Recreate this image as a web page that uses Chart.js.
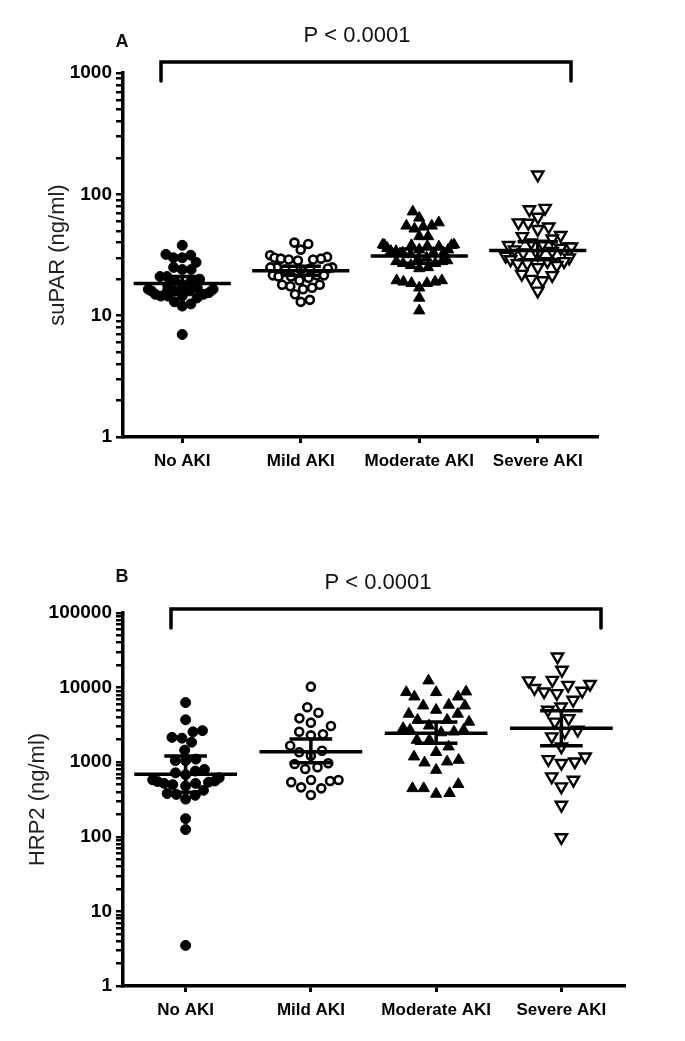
<!DOCTYPE html>
<html>
<head>
<meta charset="utf-8">
<script src="https://cdn.jsdelivr.net/npm/chart.js@4.4.0/dist/chart.umd.min.js"></script>
<style>
body{margin:0;background:#fff;width:685px;height:1041px;overflow:hidden;position:relative}
canvas{position:absolute;left:0}
#cA{top:0}
#cB{top:520px}
</style>
</head>
<body>
<canvas id="cA" width="685" height="520"></canvas>
<canvas id="cB" width="685" height="521"></canvas>
<script>
// groups on the x axis
var cats = ["No AKI", "Mild AKI", "Moderate AKI", "Severe AKI"];

// panel A, suPAR (ng/ml)
var supNo = [38, 32, 31.5, 30, 30, 27.5, 25, 24, 24, 21, 21, 20, 19.5, 19, 18, 17.5, 17, 16.5, 16.5, 16, 16, 16, 15.5, 15, 15, 14.5, 14.5, 14.5, 14, 13, 12.5, 12, 7];
var supMild = [40, 39, 35, 31.5, 30.5, 30, 29.5, 29.5, 29, 29, 28.5, 25, 25, 25, 24.5, 24.5, 24, 24, 21.5, 21.5, 21.5, 21, 21, 20.5, 19.5, 18, 18, 17.5, 17, 16.5, 15, 13.5, 13];
var supMod = [72, 64, 58.5, 55, 55, 54, 52, 45, 45, 38.5, 38.5, 38, 38, 38, 37.5, 37, 36, 35, 35, 34, 34, 33, 33, 33, 32, 30, 29, 28.5, 28, 28, 27, 27, 26, 25, 24.5, 19.5, 19.5, 19, 19, 18.5, 18.5, 17, 14, 11];
var supSev = [145, 77, 75, 65, 58.5, 58, 54, 51.5, 46, 45, 43, 40, 39, 38, 37, 37, 36, 35, 34, 33, 32, 31, 30, 29, 28, 28, 27, 27, 26, 25, 22, 21.5, 20, 19.5, 16];
var supMid = [18.4, 23.4, 31, 34.4];
var supHi = [21, 25.5, 35.5, 40.7];
var supLo = [16.2, 21.5, 27, 28.9];
var supTicks = [1, 10, 100, 1000];

// panel B, HRP2 (ng/ml)
var hrpNo = [6300, 3700, 2650, 2550, 2150, 2100, 1850, 1450, 1100, 1050, 1050, 800, 760, 720, 680, 620, 580, 560, 550, 540, 520, 520, 500, 480, 420, 380, 370, 360, 320, 175, 125, 3.5];
var hrpMild = [10300, 5450, 4600, 3870, 3390, 3060, 2560, 2370, 2290, 1665, 1425, 1360, 1220, 967, 946, 855, 811, 577, 577, 560, 540, 460, 446, 364];
var hrpMod = [12400, 8810, 7550, 7550, 8650, 8650, 5720, 5010, 5720, 5850, 4430, 4430, 3680, 3680, 3470, 3080, 2700, 2500, 2850, 2560, 2700, 1985, 1985, 1615, 1360, 1070, 985, 1015, 1185, 785, 506, 446, 375, 383, 446];
var hrpSev = [25900, 17200, 10800, 12600, 12400, 11100, 9800, 8810, 8380, 9000, 6820, 5010, 5550, 3870, 3470, 2700, 2200, 2560, 1615, 1185, 1015, 970, 1090, 640, 577, 470, 267, 98];
var hrpMid = [689, 1383, 2440, 2845];
var hrpHi = [1210, 2050, 3460, 4900];
var hrpLo = [395, 984, 1790, 1665];
var hrpTicks = [1, 10, 100, 1000, 10000, 100000];

var pText = "P < 0.0001";
var FONT = "'Liberation Sans', Arial, sans-serif";

// beeswarm offsets (in category units) so dots don't sit on top of each other,
// softly capped so dense rows don't run into the next group
function swarm(vals, ppd, ppu, d, cap) {
  var pts = vals.map(function (v, k) { return {k: k, y: Math.log10(v) * ppd, x: 0}; });
  var order = pts.slice().sort(function (a, b) { return a.y - b.y; });
  var placed = [];
  var off = [];
  var flip = 1;
  order.forEach(function (p) {
    var cands = [0];
    placed.forEach(function (q) {
      var dy = p.y - q.y;
      if (Math.abs(dy) < d) {
        var dx = Math.sqrt(d * d - dy * dy);
        cands.push(q.x + dx, q.x - dx);
      }
    });
    cands.sort(function (a, b) { return (Math.abs(a) - Math.abs(b)) || (flip * (b - a)); });
    for (var i = 0; i < cands.length; i++) {
      var c = cands[i];
      var ok = placed.every(function (q) { return (q.x - c) * (q.x - c) + (q.y - p.y) * (q.y - p.y) >= d * d - 0.01; });
      if (ok) { p.x = c; break; }
    }
    if (p.x !== 0) flip = p.x > 0 ? -1 : 1;
    placed.push(p);
    off[p.k] = cap * Math.tanh(p.x / cap) / ppu;
  });
  return off;
}

function summary(mid, hi, lo) {
  var w = 0.41, cw = 0.17, out = [];
  for (var i = 0; i < mid.length; i++) {
    out.push({x: i - w, y: mid[i]}, {x: i + w, y: mid[i]}, {x: i, y: null});
    out.push({x: i - cw, y: hi[i]}, {x: i + cw, y: hi[i]}, {x: i, y: null});
    out.push({x: i - cw, y: lo[i]}, {x: i + cw, y: lo[i]}, {x: i, y: null});
    out.push({x: i, y: hi[i]}, {x: i, y: lo[i]}, {x: i, y: null});
  }
  return out;
}

function panel(id, p) {
  var ppd = (p.bottom - p.top) / Math.log10(p.ticks[p.ticks.length - 1] / p.ticks[0]);
  var ppu = (p.right - 123) / 4;
  var styles = [
    {pointStyle: "circle", radius: 5, bg: "#000", bw: 1},
    {pointStyle: "circle", radius: 4, bg: "#fff", bw: 2.6},
    {pointStyle: "triangle", radius: 6.5, bg: "#000", bw: 1},
    {pointStyle: "triangle", radius: 6.5, bg: "#fff", bw: 2.4, rot: 180}
  ];
  var datasets = [{
    label: "summary",
    data: summary(p.mid, p.hi, p.lo),
    showLine: true, spanGaps: false, pointRadius: 0,
    borderColor: "#000", borderWidth: 3.5, borderCapStyle: "butt"
  }];
  p.groups.forEach(function (vals, i) {
    var s = styles[i];
    var off = swarm(vals, ppd, ppu, p.gap[i], p.cap);
    datasets.push({
      label: cats[i],
      data: vals.map(function (v, k) { return {x: i + off[k], y: v}; }),
      pointStyle: s.pointStyle, pointRadius: s.radius, pointRotation: s.rot || 0,
      pointBackgroundColor: s.bg, pointBorderColor: "#000", pointBorderWidth: s.bw,
      showLine: false
    });
  });

  var tickVals = [];
  for (var t = 0; t < p.ticks.length - 1; t++) {
    for (var m = 1; m < 10; m++) tickVals.push(p.ticks[t] * m);
  }
  tickVals.push(p.ticks[p.ticks.length - 1]);

  var notes = {
    id: "notes",
    afterDraw: function (chart) {
      var c = chart.ctx, n = p.note;
      c.save();
      c.strokeStyle = "#000";
      c.lineWidth = 3.5;
      c.lineCap = "round";
      c.lineJoin = "miter";
      c.beginPath();
      c.moveTo(n.bl, n.bb); c.lineTo(n.bl, n.bt); c.lineTo(n.br, n.bt); c.lineTo(n.br, n.bb);
      c.stroke();
      c.fillStyle = "#111";
      c.textAlign = "center";
      c.textBaseline = "middle";
      c.font = "22px " + FONT;
      c.fillText(pText, n.px, n.py);
      c.font = "bold 18px " + FONT;
      c.fillText(n.letter, n.lx, n.ly);
      c.restore();
    }
  };

  return new Chart(document.getElementById(id), {
    type: "scatter",
    data: {datasets: datasets},
    plugins: [notes],
    options: {
      responsive: false, animation: false, devicePixelRatio: 1,
      layout: {padding: {top: p.top, right: 685 - p.right, left: 0, bottom: 0}},
      plugins: {legend: {display: false}, tooltip: {enabled: false}},
      scales: {
        x: {
          type: "linear", min: -0.5, max: 3.5,
          afterBuildTicks: function (s) { s.ticks = cats.map(function (c, i) { return {value: i}; }); },
          afterFit: function (s) { s.height = p.h - p.bottom; },
          ticks: {autoSkip: false, maxRotation: 0, padding: 8, color: "#000",
            font: {family: FONT, size: 17, weight: "bold"},
            callback: function (v) { return cats[v]; }},
          grid: {drawOnChartArea: false, tickLength: 6, color: "#000", lineWidth: 3},
          border: {color: "#000", width: 3.5}
        },
        y: {
          type: "logarithmic", min: p.ticks[0], max: p.ticks[p.ticks.length - 1],
          afterBuildTicks: function (s) { s.ticks = tickVals.map(function (v) { return {value: v}; }); },
          afterFit: function (s) { s.width = 123; },
          ticks: {autoSkip: false, padding: 4, color: "#000",
            font: {family: FONT, size: 19, weight: "bold"},
            callback: function (v) { return p.ticks.indexOf(v) >= 0 ? String(v) : ""; }},
          grid: {drawOnChartArea: false, tickLength: 7, color: "#000", lineWidth: 2.5},
          border: {color: "#000", width: 3.5},
          title: {display: true, text: p.title, color: "#222",
            font: {family: FONT, size: 22}, padding: {top: p.titlePad, bottom: 0}}
        }
      }
    }
  });
}

panel("cA", {
  groups: [supNo, supMild, supMod, supSev],
  mid: supMid, hi: supHi, lo: supLo, ticks: supTicks,
  title: "suPAR (ng/ml)", titlePad: 45,
  h: 520, top: 73, bottom: 437, right: 597, gap: [9, 9.5, 9, 11.5], cap: 40,
  note: {letter: "A", lx: 122, ly: 42, px: 357, py: 36, bl: 161, br: 571, bt: 62, bb: 81}
});

panel("cB", {
  groups: [hrpNo, hrpMild, hrpMod, hrpSev],
  mid: hrpMid, hi: hrpHi, lo: hrpLo, ticks: hrpTicks,
  title: "HRP2 (ng/ml)", titlePad: 25,
  h: 521, top: 93, bottom: 466, right: 624, gap: [10.5, 12.5, 14, 14], cap: 42,
  note: {letter: "B", lx: 122, ly: 57, px: 378, py: 63, bl: 171, br: 601, bt: 89, bb: 108}
});
</script>
</body>
</html>
